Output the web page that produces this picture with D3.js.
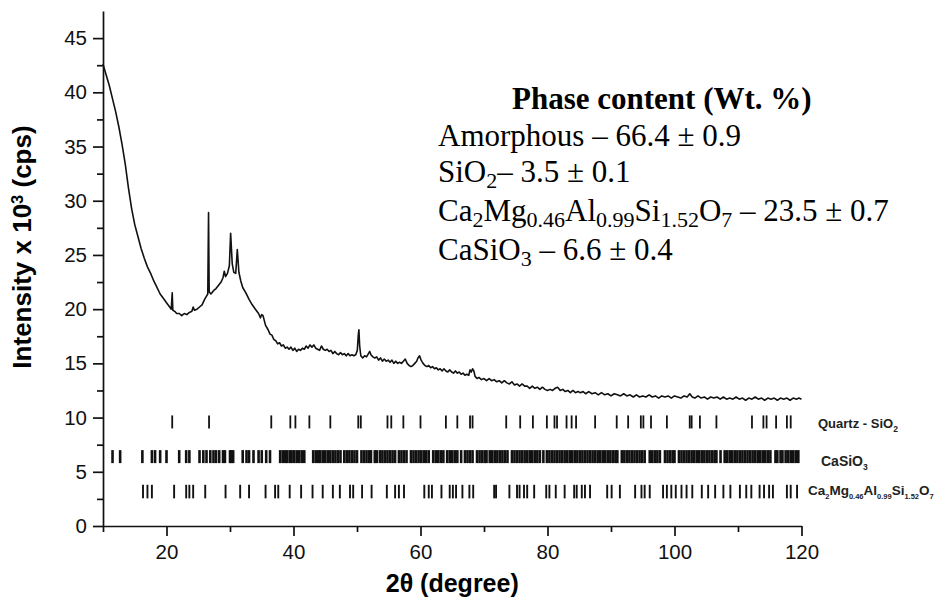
<!DOCTYPE html>
<html>
<head>
<meta charset="utf-8">
<script src="https://cdn.jsdelivr.net/npm/d3@7"></script>
<style>
  body { margin: 0; background: #fff; }
  svg { display: block; }
  .tick text { font-family: "Liberation Sans", Arial, sans-serif; }
</style>
</head>
<body>
<svg id="chart" width="942" height="599"></svg>
<script>
// measured pattern (2theta in degrees, intensity x 10^3 cps)
const twoTheta = [
  10.0, 10.5, 11.0, 11.5, 12.0, 12.5, 13.0, 13.5, 14.0, 14.5,
  15.0, 15.5, 16.0, 16.5, 17.0, 17.5, 18.0, 18.5, 19.0, 19.5,
  20.0, 20.5, 20.75, 20.9, 21.0, 21.3, 21.6, 22.0, 22.4, 22.8,
  23.2, 23.6, 24.0, 24.2, 24.4, 24.8, 25.2, 25.6, 26.0, 26.3,
  26.5, 26.62, 26.72, 27.0, 27.4, 27.8, 28.2, 28.6, 28.9, 29.1,
  29.3, 29.6, 29.9, 30.1, 30.35, 30.6, 30.9, 31.15, 31.4, 31.7,
  32.0, 32.5, 33.0, 33.5, 34.0, 34.5, 34.8, 35.0, 35.2, 35.6,
  36.0, 36.3, 36.6, 36.9, 37.2, 37.5, 37.8, 38.1, 38.4, 38.7,
  39.0, 39.3, 39.6, 39.9, 40.2, 40.5, 40.8, 41.1, 41.4, 41.7,
  42.0, 42.3, 42.6, 42.9, 43.2, 43.5, 43.8, 44.1, 44.4, 44.7,
  45.0, 45.3, 45.6, 45.9, 46.2, 46.5, 46.8, 47.1, 47.4, 47.7,
  48.0, 48.3, 48.6, 48.9, 49.2, 49.5, 49.8, 50.05, 50.2, 50.3,
  50.42, 50.6, 50.9, 51.2, 51.5, 51.8, 52.0, 52.2, 52.5, 52.8,
  53.1, 53.4, 53.7, 54.0, 54.3, 54.6, 54.9, 55.2, 55.5, 55.8,
  56.1, 56.4, 56.7, 57.0, 57.3, 57.6, 57.9, 58.2, 58.5, 58.8,
  59.1, 59.4, 59.6, 59.85, 60.1, 60.4, 60.7, 61.0, 61.3, 61.6,
  61.9, 62.2, 62.5, 62.8, 63.1, 63.4, 63.7, 64.0, 64.3, 64.6,
  64.9, 65.2, 65.5, 65.8, 66.1, 66.4, 66.7, 67.0, 67.3, 67.6,
  67.8, 68.0, 68.2, 68.4, 68.6, 68.9, 69.2, 69.6, 70.0, 70.4,
  70.8, 71.2, 71.6, 72.0, 72.4, 72.8, 73.2, 73.6, 74.0, 74.4,
  74.8, 75.2, 75.6, 76.0, 76.4, 76.8, 77.2, 77.6, 78.0, 78.4,
  78.8, 79.2, 79.6, 80.0, 80.4, 80.8, 81.2, 81.6, 82.0, 82.4,
  82.8, 83.2, 83.6, 84.0, 84.4, 84.8, 85.2, 85.6, 86.0, 86.5,
  87.0, 87.5, 88.0, 88.5, 89.0, 89.5, 90.0, 90.5, 91.0, 91.5,
  92.0, 92.5, 93.0, 93.5, 94.0, 94.5, 95.0, 95.5, 96.0, 96.5,
  97.0, 97.5, 98.0, 98.5, 99.0, 99.5, 100.0, 100.5, 101.0, 101.5,
  102.0, 102.4, 102.8, 103.2, 103.7, 104.2, 104.7, 105.2, 105.7, 106.2,
  106.7, 107.2, 107.7, 108.2, 108.7, 109.2, 109.7, 110.2, 110.7, 111.2,
  111.7, 112.2, 112.7, 113.2, 113.7, 114.2, 114.7, 115.2, 115.7, 116.2,
  116.7, 117.2, 117.7, 118.2, 118.7, 119.2, 119.6, 120.0];
const intensity = [
  42.6, 41.6, 40.6, 39.4, 38.2, 36.8, 35.2, 33.4, 31.2, 29.3,
  27.8, 26.7, 25.6, 24.7, 23.9, 23.3, 22.6, 22.0, 21.4, 21.0,
  20.6, 20.2, 20.0, 21.5, 19.9, 19.8, 19.6, 19.6, 19.4, 19.6,
  19.5, 19.7, 19.8, 20.2, 19.9, 20.0, 20.2, 20.4, 20.9, 21.2,
  21.4, 28.9, 21.6, 21.4, 21.7, 21.9, 22.2, 22.5, 22.9, 23.5,
  23.0, 23.3, 24.0, 27.0, 24.2, 23.4, 23.3, 25.5, 23.4, 22.6,
  22.0, 21.5, 20.9, 20.4, 20.0, 19.6, 19.2, 19.5, 19.4, 18.5,
  18.1, 17.7, 17.6, 17.2, 17.1, 16.8, 16.9, 16.6, 16.7, 16.4,
  16.5, 16.3, 16.5, 16.2, 16.4, 16.1, 16.3, 16.2, 16.4, 16.3,
  16.6, 16.4, 16.7, 16.5, 16.7, 16.4, 16.3, 16.2, 16.6, 16.3,
  16.2, 16.3, 16.1, 16.2, 15.9, 16.1, 15.9, 15.8, 16.0, 15.8,
  15.9, 15.7, 15.9, 15.7, 15.8, 15.7, 15.8, 16.2, 17.6, 18.1,
  16.6, 15.7, 15.5, 15.7, 15.6, 15.9, 16.1, 15.8, 15.6, 15.5,
  15.6, 15.3, 15.5, 15.2, 15.4, 15.2, 15.3, 15.1, 15.3, 15.0,
  15.2, 15.0, 15.1, 15.0, 15.2, 15.4, 15.0, 14.8, 14.7, 14.8,
  15.0, 15.2, 15.5, 15.7, 15.3, 15.0, 14.8, 14.7, 14.8, 14.6,
  14.7, 14.5, 14.6, 14.4, 14.5, 14.3, 14.5, 14.3, 14.2, 14.4,
  14.2, 14.1, 14.3, 14.1, 14.2, 14.0, 14.1, 13.9, 14.0, 13.9,
  14.4, 14.2, 14.5, 14.3, 13.8, 13.6, 13.7, 13.5, 13.6, 13.4,
  13.6, 13.4, 13.5, 13.3, 13.4, 13.2, 13.4, 13.2, 13.1, 13.3,
  13.0, 13.1, 12.9, 13.1, 12.9, 12.9, 12.7, 12.9, 12.7, 12.8,
  12.6, 12.8, 12.6, 12.5, 12.6, 12.5, 12.7, 12.8, 12.5, 12.6,
  12.4, 12.5, 12.3, 12.5, 12.3, 12.4, 12.3, 12.4, 12.2, 12.4,
  12.2, 12.3, 12.1, 12.3, 12.1, 12.2, 12.0, 12.2, 12.1, 12.0,
  12.2, 12.0, 12.1, 11.9, 12.1, 11.9, 12.0, 11.9, 12.1, 11.9,
  12.0, 11.8, 12.0, 11.9, 12.0, 11.8, 12.0, 11.9, 11.8, 12.0,
  11.9, 12.2, 11.9, 11.8, 12.0, 11.8, 11.9, 11.7, 11.9, 11.8,
  11.9, 11.7, 11.9, 11.7, 11.8, 11.7, 11.9, 11.7, 11.8, 11.6,
  11.8, 11.7, 11.9, 11.7, 11.8, 11.6, 11.8, 11.7, 11.8, 11.6,
  11.8, 11.7, 11.8, 11.6, 11.8, 11.7, 11.8, 11.7];

// reference reflection positions (2theta)
const quartzPeaks = [20.9, 26.7, 36.5, 39.5, 40.3, 42.5, 45.8, 50.2, 50.6, 54.8, 55.4, 57.3, 60.0, 64.0, 65.8,
  67.8, 68.2, 73.5, 75.7, 77.7, 79.9, 81.1, 81.5, 83.0, 83.8, 84.5, 87.5, 90.9, 92.7, 94.7, 95.1, 96.3, 98.8,
  102.4, 102.7, 104.0, 106.6, 112.2, 114.0, 114.5, 116.0, 117.7, 118.3];
const casio3Peaks = [11.5, 12.7, 16.2, 17.7, 18.2, 19.0, 20.0, 22.0, 23.1, 23.6, 25.2, 25.8, 26.3, 26.9, 27.4,
  27.8, 28.3, 28.9, 29.2, 30.0, 30.2, 30.5, 32.0, 32.6, 33.0, 33.7, 34.5, 35.0, 35.7, 36.3, 37.9, 38.3, 38.7,
  39.0, 39.4, 39.7, 40.1, 40.5, 40.9, 41.3, 41.7, 43.1, 43.5, 43.9, 44.2, 44.6, 45.0, 45.4, 45.8, 46.2, 46.6,
  47.0, 47.4, 48.0, 48.4, 48.8, 49.2, 49.6, 50.0, 50.7, 51.1, 51.5, 51.9, 52.2, 52.8, 53.1, 53.6, 54.0, 54.4,
  54.8, 55.2, 55.6, 56.0, 56.6, 57.0, 57.4, 57.8, 58.5, 58.9, 59.3, 59.7, 60.1, 60.5, 60.9, 61.3, 62.0, 62.4,
  62.8, 63.2, 63.6, 64.2, 64.6, 65.0, 65.4, 65.8, 66.4, 67.0, 67.4, 67.8, 68.2, 68.9, 69.3, 69.7, 70.1, 70.4,
  70.9, 71.3, 71.7, 72.1, 72.5, 72.9, 73.3, 73.7, 74.4, 74.8, 75.2, 75.6, 76.0, 76.4, 76.8, 77.2, 77.6, 78.0,
  78.4, 78.8, 79.35, 79.9, 80.3, 80.7, 81.1, 81.5, 81.9, 82.3, 82.7, 83.1, 83.5, 83.9, 84.3, 84.7, 85.1, 85.5,
  85.9, 86.3, 86.7, 87.1, 87.5, 87.9, 88.3, 88.7, 89.1, 89.5, 89.9, 90.3, 90.7, 91.0, 91.7, 92.1, 92.5, 92.9,
  93.3, 93.7, 94.1, 94.5, 94.9, 95.3, 96.1, 96.5, 96.9, 97.3, 97.7, 98.5, 98.9, 99.3, 99.7, 100.0, 100.7,
  101.1, 101.5, 101.9, 102.3, 102.7, 103.1, 103.5, 103.9, 104.3, 104.7, 105.1, 105.5, 105.9, 106.3, 106.6,
  107.25, 107.9, 108.3, 108.7, 109.1, 109.5, 109.9, 110.3, 110.7, 111.1, 111.5, 111.9, 112.3, 112.7, 113.1,
  113.5, 113.9, 114.3, 114.7, 115.1, 115.9, 116.2, 116.7, 117.0, 117.5, 117.9, 118.3, 118.7, 119.1, 119.5];
const gehlenitePeaks = [16.3, 17.0, 17.7, 21.2, 23.1, 23.6, 24.2, 26.1, 29.3, 31.6, 33.0, 35.6, 37.1, 37.6, 39.4,
  41.2, 43.0, 44.6, 46.2, 47.3, 48.9, 49.4, 50.8, 52.3, 54.7, 56.0, 56.6, 57.4, 60.6, 61.3, 61.8, 63.3, 64.6,
  65.1, 65.6, 66.6, 67.7, 68.3, 71.6, 71.9, 74.0, 75.2, 75.6, 76.3, 76.8, 77.9, 79.8, 80.3, 81.3, 82.7, 84.2,
  84.6, 85.4, 85.9, 86.7, 89.4, 90.1, 91.4, 93.8, 94.8, 95.3, 96.1, 98.2, 98.8, 99.5, 100.2, 101.1, 101.9,
  102.8, 104.3, 105.3, 106.4, 107.7, 108.8, 110.3, 111.3, 112.1, 113.4, 114.1, 114.9, 115.5, 117.7, 118.3,
  119.3];

const rowLabels = ["Quartz - SiO_{2}", "CaSiO_{3}", "Ca_{2}Mg_{0.46}Al_{0.99}Si_{1.52}O_{7}"];
const xMajor = [20, 40, 60, 80, 100, 120];
const xMinor = [10, 30, 50, 70, 90, 110];
const yMajor = [0, 5, 10, 15, 20, 25, 30, 35, 40, 45];
const yMinor = [2.5, 7.5, 12.5, 17.5, 22.5, 27.5, 32.5, 37.5, 42.5];

const phaseTitle = "Phase content (Wt. %)";
const phaseRows = ["Amorphous – 66.4 ± 0.9", "SiO_{2}– 3.5 ± 0.1",
  "Ca_{2}Mg_{0.46}Al_{0.99}Si_{1.52}O_{7} – 23.5 ± 0.7", "CaSiO_{3} – 6.6 ± 0.4"];

const svg = d3.select("#chart");
const sans = '"Liberation Sans", Arial, sans-serif';
const serif = '"Liberation Serif", "Times New Roman", serif';

const x = d3.scaleLinear().domain([10, 120]).range([103, 801.5]);
const y = d3.scaleLinear().domain([0, 47.5]).range([526, 11]);

// text with _{sub} / ^{sup} markup
function richText(g, px, py, str, size, subSize, subShift) {
  const t = g.append("text").attr("x", px).attr("y", py).style("font-size", size + "px");
  let cur = 0;
  str.split(/(_\{[^}]*\}|\^\{[^}]*\})/).filter(s => s.length).forEach(s => {
    let off = 0, txt = s, fs = size;
    if (s.startsWith("_{")) { off = subShift; txt = s.slice(2, -1); fs = subSize; }
    else if (s.startsWith("^{")) { off = -subShift * 1.6; txt = s.slice(2, -1); fs = subSize; }
    t.append("tspan").attr("dy", off - cur).style("font-size", fs + "px").text(txt);
    cur = off;
  });
  return t;
}

// axes
const gx = svg.append("g").attr("transform", `translate(0,${y(0)})`);
gx.call(d3.axisBottom(x).tickValues(xMajor).tickSize(10).tickSizeOuter(0).tickPadding(8));
gx.append("g").call(d3.axisBottom(x).tickValues(xMinor).tickSize(6).tickFormat(""))
  .select(".domain").remove();
gx.selectAll("text").style("font-size", "20.5px").attr("fill", "#111");

const gy = svg.append("g").attr("transform", `translate(${x(10)},0)`);
gy.call(d3.axisLeft(y).tickValues(yMajor).tickSize(10).tickSizeOuter(0).tickPadding(6));
gy.append("g").call(d3.axisLeft(y).tickValues(yMinor).tickSize(6).tickFormat(""))
  .select(".domain").remove();
gy.selectAll("text").style("font-size", "20.5px").attr("fill", "#111");

svg.selectAll(".domain, .tick line").attr("stroke", "#111").attr("stroke-width", 1.7);

// axis titles
svg.append("text")
  .attr("x", (x(10) + x(120)) / 2).attr("y", 592)
  .attr("text-anchor", "middle")
  .style("font-family", sans).style("font-weight", "bold").style("font-size", "25px")
  .text("2θ (degree)");

const yt = svg.append("g").attr("transform", "translate(31,247) rotate(-90)")
  .style("font-family", sans).style("font-weight", "bold");
richText(yt, 0, 0, "Intensity x 10^{3} (cps)", 26, 16.5, 5).attr("text-anchor", "middle");

// pattern
const line = d3.line().x((d, i) => x(twoTheta[i])).y(d => y(d));
svg.append("path")
  .datum(intensity)
  .attr("d", line)
  .attr("fill", "none")
  .attr("stroke", "#111")
  .attr("stroke-width", 1.6)
  .attr("stroke-linejoin", "round");

// reflection markers
const rows = [
  { peaks: quartzPeaks, lo: 9.0, hi: 10.2, w: 1.8 },
  { peaks: casio3Peaks, lo: 5.8, hi: 7.0, w: 2.6 },
  { peaks: gehlenitePeaks, lo: 2.55, hi: 3.8, w: 1.9 }
];
rows.forEach(r => {
  svg.append("g").selectAll("line")
    .data(r.peaks)
    .join("line")
    .attr("x1", d => x(d)).attr("x2", d => x(d))
    .attr("y1", y(r.hi)).attr("y2", y(r.lo))
    .attr("stroke", "#111").attr("stroke-width", r.w);
});

// row labels
const lab = svg.append("g").style("font-family", sans).style("font-weight", "bold").attr("fill", "#222");
richText(lab, 818, 428, rowLabels[0], 13, 8.5, 4);
richText(lab, 821, 466, rowLabels[1], 14, 8.5, 4);
richText(lab, 808, 495, rowLabels[2], 13.5, 7.5, 3.5);

// phase content box
const pc = svg.append("g").style("font-family", serif).attr("fill", "#000");
pc.append("text").attr("x", 512).attr("y", 109)
  .style("font-size", "31px").style("font-weight", "bold").text(phaseTitle);
const rowY = [146, 182, 221, 260];
phaseRows.forEach((s, i) => richText(pc, 438, rowY[i], s, 31, 22, 6));
</script>
</body>
</html>
